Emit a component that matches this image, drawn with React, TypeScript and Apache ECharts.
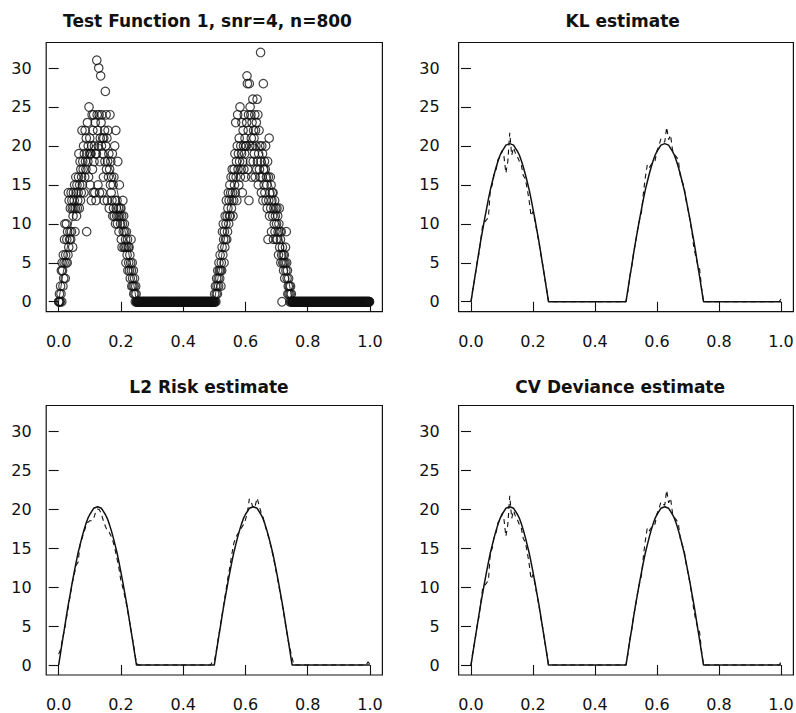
import React, { useEffect, useRef } from "react";
import * as echarts from "echarts";

// ---------- tick labels & titles ----------
const xTickValues = [0, 0.2, 0.4, 0.6, 0.8, 1.0];
const yTickValues = [0, 5, 10, 15, 20, 25, 30];
const panelTitles = [
  "Test Function 1, snr=4, n=800",
  "KL estimate",
  "L2 Risk estimate",
  "CV Deviance estimate",
];

// ---------- simulated counts (n = 800, equally spaced design) ----------
const peak1Counts = [
  0, 0, 1, 0, 0, 2, 1, 4, 0, 5,
  4, 2, 6, 3, 5, 8, 10, 3, 6, 5,
  10, 8, 5, 9, 6, 14, 7, 13, 8, 9,
  12, 8, 14, 9, 13, 12, 7, 11, 14, 12,
  13, 15, 9, 12, 16, 14, 11, 15, 12, 13,
  14, 16, 19, 12, 15, 18, 13, 17, 14, 16,
  22, 15, 18, 17, 20, 14, 19, 16, 22, 18,
  17, 21, 9, 19, 23, 18, 20, 16, 25, 19,
  21, 15, 19, 19, 13, 20, 24, 17, 22, 14,
  24, 18, 20, 14, 23, 19, 13, 19, 31, 24,
  22, 15, 20, 30, 24, 14, 18, 21, 29, 23,
  20, 24, 14, 21, 19, 16, 21, 13, 22, 18,
  27, 20, 24, 17, 21, 13, 18, 22, 16, 19,
  12, 17, 24, 15, 18, 14, 16, 13, 19, 11,
  15, 12, 16, 11, 20, 13, 10, 22, 12, 11,
  13, 10, 18, 11, 12, 9, 15, 11, 12, 10,
  12, 8, 11, 7, 10, 13, 9, 11, 7, 10,
  9, 7, 8, 5, 9, 7, 6, 8, 4, 7,
  5, 7, 4, 6, 3, 5, 8, 4, 2, 5,
  3, 2, 4, 1, 2, 3, 1, 0, 2, 1,
];

const flatCounts = [
  0, 0, 0, 0, 0, 0, 0, 0, 0, 0, 0, 0, 0, 0, 0, 0, 0, 0, 0, 0, 0, 0, 0, 0, 0, 0, 0, 0, 0, 0, 0, 0, 0, 0, 0, 0, 0, 0, 0, 0, 0, 0, 0, 0, 0, 0, 0, 0, 0, 0,
  0, 0, 0, 0, 0, 0, 0, 0, 0, 0, 0, 0, 0, 0, 0, 0, 0, 0, 0, 0, 0, 0, 0, 0, 0, 0, 0, 0, 0, 0, 0, 0, 0, 0, 0, 0, 0, 0, 0, 0, 0, 0, 0, 0, 0, 0, 0, 0, 0, 0,
  0, 0, 0, 0, 0, 0, 0, 0, 0, 0, 0, 0, 0, 0, 0, 0, 0, 0, 0, 0, 0, 0, 0, 0, 0, 0, 0, 0, 0, 0, 0, 0, 0, 0, 0, 0, 0, 0, 0, 0, 0, 0, 0, 0, 0, 0, 0, 0, 0, 0,
  0, 0, 0, 0, 0, 0, 0, 0, 0, 0, 0, 0, 0, 0, 0, 0, 0, 0, 0, 0, 0, 0, 0, 0, 0, 0, 0, 0, 0, 0, 0, 0, 0, 0, 0, 0, 0, 0, 0, 0, 0, 0, 0, 0, 0, 0, 0, 0, 0, 0,
];

const peak2Counts = [
  0, 1, 0, 2, 0, 1, 3, 2, 1, 4,
  3, 2, 5, 4, 3, 6, 4, 2, 5, 4,
  7, 9, 6, 10, 8, 5, 9, 7, 11, 8,
  10, 13, 8, 11, 9, 12, 14, 10, 13, 11,
  15, 11, 14, 16, 12, 13, 17, 14, 11, 16,
  13, 17, 15, 19, 14, 23, 16, 18, 13, 20,
  24, 17, 19, 15, 21, 18, 25, 16, 20, 17,
  19, 23, 14, 18, 22, 20, 17, 24, 19, 21,
  16, 20, 20, 23, 29, 28, 17, 22, 24, 13,
  28, 20, 25, 18, 24, 21, 16, 23, 20, 26,
  18, 22, 21, 19, 24, 16, 22, 20, 23, 17,
  26, 18, 24, 15, 19, 22, 17, 20, 16, 32,
  18, 14, 20, 16, 19, 13, 28, 17, 15, 18,
  14, 17, 20, 13, 16, 15, 12, 18, 8, 16,
  13, 21, 11, 14, 16, 12, 15, 9, 13, 14,
  11, 14, 8, 12, 10, 13, 9, 11, 12, 8,
  10, 12, 8, 11, 9, 6, 10, 12, 7, 9,
  8, 5, 9, 6, 0, 7, 5, 6, 4, 5,
  6, 3, 5, 7, 4, 9, 5, 3, 4, 1,
  2, 3, 1, 2, 0, 1, 2, 0, 1, 0,
];

// ---------- curves on a grid of 161 points, x = 0 .. 1 ----------
const truthCurve = [
  0, 1.6, 3.2, 4.7, 6.3, 7.8, 9.2, 10.6, 11.9, 13.2, 14.4, 15.4, 16.4, 17.3, 18.1, 18.8, 19.3, 19.7, 20.1, 20.2,
  20.3, 20.2, 20.1, 19.7, 19.3, 18.8, 18.1, 17.3, 16.4, 15.4, 14.4, 13.2, 11.9, 10.6, 9.2, 7.8, 6.3, 4.7, 3.2, 1.6, 0,
  0, 0, 0, 0, 0, 0, 0, 0, 0, 0,
  0, 0, 0, 0, 0, 0, 0, 0, 0, 0,
  0, 0, 0, 0, 0, 0, 0, 0, 0, 0,
  0, 0, 0, 0, 0, 0, 0, 0, 0,
  0, 1.6, 3.2, 4.7, 6.3, 7.8, 9.2, 10.6, 11.9, 13.2, 14.4, 15.4, 16.4, 17.3, 18.1, 18.8, 19.3, 19.7, 20.1, 20.2,
  20.3, 20.2, 20.1, 19.7, 19.3, 18.8, 18.1, 17.3, 16.4, 15.4, 14.4, 13.2, 11.9, 10.6, 9.2, 7.8, 6.3, 4.7, 3.2, 1.6, 0,
  0, 0, 0, 0, 0, 0, 0, 0, 0, 0,
  0, 0, 0, 0, 0, 0, 0, 0, 0, 0,
  0, 0, 0, 0, 0, 0, 0, 0, 0, 0,
  0, 0, 0, 0, 0, 0, 0, 0, 0, 0,
];

const klEstimate = [
  0, 1.8, 3.0, 4.9, 6.0, 7.9, 9.8, 10.2, 10.5, 10.9, 14.4, 15.0, 16.6, 17.0, 18.3, 18.6, 19.4, 18.7, 16.5, 18.0,
  21.7, 18.8, 19.8, 19.0, 18.6, 18.0, 17.5, 16.2, 15.8, 14.5, 13.0, 11.0, 11.6, 10.4, 9.0, 7.7, 6.1, 4.8, 3.1, 1.7, 0,
  0, 0, 0, 0, 0, 0, 0, 0, 0, 0,
  0, 0, 0, 0, 0, 0, 0, 0, 0, 0,
  0, 0, 0, 0, 0, 0, 0, 0, 0, 0,
  0, 0, 0, 0, 0, 0, 0, 0, 0,
  0, 1.4, 3.3, 4.6, 6.4, 7.7, 9.3, 10.5, 11.5, 14.0, 16.0, 17.6, 17.2, 17.6, 18.0, 18.1, 19.4, 20.0, 20.9, 20.6,
  20.5, 22.4, 20.8, 21.4, 19.5, 18.9, 18.6, 18.2, 16.2, 15.4, 14.8, 13.0, 11.8, 10.5, 9.0, 7.0, 5.8, 4.8, 4.2, 1.8, 0,
  0, 0, 0, 0, 0, 0, 0, 0, 0, 0,
  0, 0, 0, 0, 0, 0, 0, 0, 0, 0,
  0, 0, 0, 0, 0, 0, 0, 0, 0, 0,
  0, 0, 0, 0, 0, 0, 0, 0, 0, 0.35,
];

const l2Estimate = [
  1.4, 2.0, 3.4, 4.5, 6.0, 7.5, 9.0, 10.5, 11.6, 12.8, 13.2, 15.4, 16.2, 17.0, 17.8, 18.3, 18.5, 18.5, 18.8, 19.6,
  20.0, 19.9, 19.3, 18.5, 17.8, 17.2, 17.0, 16.5, 15.8, 14.8, 13.6, 12.4, 10.8, 9.9, 8.8, 7.6, 6.2, 4.8, 3.3, 1.8, 0.2,
  0, 0, 0, 0, 0, 0, 0, 0, 0, 0,
  0, 0, 0, 0, 0, 0, 0, 0, 0, 0,
  0, 0, 0, 0, 0, 0, 0, 0, 0, 0,
  0, 0, 0, 0, 0, 0, 0, 0, 0.4,
  0.4, 1.8, 3.4, 4.9, 6.4, 8.0, 9.6, 11.2, 12.6, 14.2, 15.6, 16.3, 16.8, 17.2, 17.6, 18.0, 18.6, 19.5, 21.3, 20.9,
  20.1, 20.4, 21.4, 20.5, 19.6, 19.0, 18.0, 17.1, 16.3, 15.3, 14.2, 13.0, 11.7, 10.4, 9.0, 7.6, 6.1, 4.6, 3.1, 2.0, 0.9,
  0, 0, 0, 0, 0, 0, 0, 0, 0, 0,
  0, 0, 0, 0, 0, 0, 0, 0, 0, 0,
  0, 0, 0, 0, 0, 0, 0, 0, 0, 0,
  0, 0, 0, 0, 0, 0, 0, 0, 0.4, 0.1,
];

// The CV deviance estimate in the picture coincides with the KL estimate
const cvEstimate = [...klEstimate];

// ---------- layout (pixels) ----------
const panels = [
  { left: 46.2, top: 42.5, width: 336.2, height: 269.2, titleX: 207.5, titleY: 20.5, yMargin: 14.5 },
  { left: 458.6, top: 42.5, width: 334.8, height: 269.2, titleX: 622.7, titleY: 20.5, yMargin: 19 },
  { left: 46.2, top: 405.5, width: 336.2, height: 269.5, titleX: 209, titleY: 386.5, yMargin: 14.5 },
  { left: 458.6, top: 405.5, width: 334.8, height: 269.5, titleX: 620.2, titleY: 386.5, yMargin: 19 },
];

const INK = "#111111";
const FONT = "'DejaVu Sans', 'Liberation Sans', sans-serif";

function buildOption() {
  const counts = [...peak1Counts, ...flatCounts, ...peak2Counts, ...flatCounts];
  const n = counts.length;
  const scatterData = counts.map((y, i) => [i / n, y]);
  const toLine = (vals: number[]) => vals.map((y, k) => [k / (vals.length - 1), y]);

  const grid = panels.map((p) => ({
    left: p.left,
    top: p.top,
    width: p.width,
    height: p.height,
    show: true,
    borderColor: INK,
    borderWidth: 1.2,
    backgroundColor: "transparent",
    containLabel: false,
    outerBoundsMode: "none",
  }));

  const xAxis = panels.map((_, i) => ({
    type: "value",
    gridIndex: i,
    min: -0.04,
    max: 1.04,
    axisLine: { show: false },
    splitLine: { show: false },
    axisTick: {
      show: true,
      customValues: xTickValues,
      length: 10,
      inside: false,
      lineStyle: { color: INK, width: 1.1 },
    },
    axisLabel: {
      show: true,
      customValues: xTickValues,
      margin: 21.5,
      color: INK,
      fontSize: 16,
      fontFamily: FONT,
      formatter: (v: number) => v.toFixed(1),
    },
  }));

  const yAxis = panels.map((p, i) => ({
    type: "value",
    gridIndex: i,
    min: -1.28,
    max: 33.28,
    axisLine: { show: false },
    splitLine: { show: false },
    axisTick: {
      show: true,
      customValues: yTickValues,
      length: 10,
      inside: false,
      lineStyle: { color: INK, width: 1.1 },
    },
    axisLabel: {
      show: true,
      customValues: yTickValues,
      margin: p.yMargin,
      color: INK,
      fontSize: 16,
      fontFamily: FONT,
      formatter: (v: number) => String(Math.round(v)),
    },
  }));

  const truthSeries = (i: number, width: number) => ({
    type: "line",
    xAxisIndex: i,
    yAxisIndex: i,
    data: toLine(truthCurve),
    showSymbol: false,
    symbol: "none",
    smooth: false,
    silent: true,
    z: 3,
    lineStyle: { color: INK, width, type: "solid" },
  });

  const estimateSeries = (i: number, vals: number[]) => ({
    type: "line",
    xAxisIndex: i,
    yAxisIndex: i,
    data: toLine(vals),
    showSymbol: false,
    symbol: "none",
    smooth: false,
    silent: true,
    z: 4,
    lineStyle: { color: INK, width: 1.1, type: [5, 4] },
  });

  const series: any[] = [
    {
      type: "scatter",
      xAxisIndex: 0,
      yAxisIndex: 0,
      data: scatterData,
      symbol: "circle",
      symbolSize: 8.5,
      silent: true,
      z: 2,
      itemStyle: { color: "rgba(0,0,0,0)", borderColor: INK, borderWidth: 1.2 },
    },
    truthSeries(0, 0.8),
    truthSeries(1, 1.5),
    estimateSeries(1, klEstimate),
    truthSeries(2, 1.5),
    estimateSeries(2, l2Estimate),
    truthSeries(3, 1.5),
    estimateSeries(3, cvEstimate),
  ];

  const graphic = panelTitles.map((t, i) => ({
    type: "text",
    x: panels[i].titleX,
    y: panels[i].titleY,
    silent: true,
    style: {
      text: t,
      fill: INK,
      fontSize: 17,
      fontWeight: "bold",
      fontFamily: FONT,
      textAlign: "center",
      textVerticalAlign: "middle",
      align: "center",
      verticalAlign: "middle",
    },
  }));

  return {
    animation: false,
    backgroundColor: "#ffffff",
    grid,
    xAxis,
    yAxis,
    series,
    graphic,
  };
}

export default function App() {
  const ref = useRef<HTMLDivElement>(null);
  useEffect(() => {
    if (!ref.current) return;
    const chart = echarts.init(ref.current, undefined, { renderer: "svg", width: 796, height: 713 });
    chart.setOption(buildOption() as any);
    return () => chart.dispose();
  }, []);
  return (
    <div
      ref={ref}
      style={{ position: "fixed", left: 0, top: 0, width: 796, height: 713, background: "#fff" }}
    />
  );
}
